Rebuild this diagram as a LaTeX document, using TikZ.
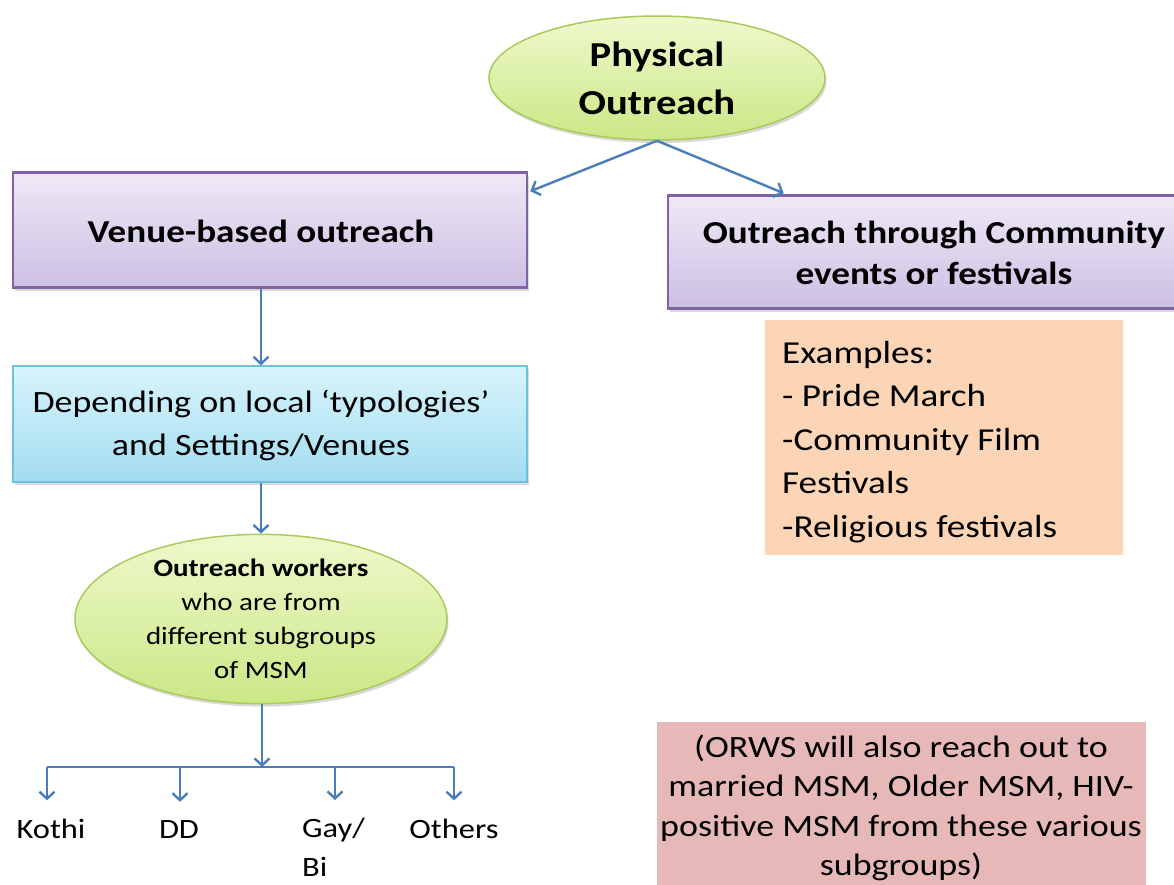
\documentclass[tikz,border=0pt]{standalone}
\usepackage{fontspec}
\setmainfont{Carlito}[FakeStretch=1.16]
\usetikzlibrary{arrows.meta,shapes.geometric,shadows,calc}
\definecolor{arrowblue}{HTML}{4A7EBB}
\definecolor{purpleedge}{HTML}{8064A2}
\definecolor{purpletop}{HTML}{EEE9F6}
\definecolor{purplebot}{HTML}{CDBFE3}
\definecolor{cyanedge}{HTML}{6FC0DC}
\definecolor{cyantop}{HTML}{D8F4FC}
\definecolor{cyanbot}{HTML}{A2DCF0}
\definecolor{greenedge}{HTML}{A9CB5C}
\definecolor{greentop}{HTML}{EEF9CB}
\definecolor{greenbot}{HTML}{CBE786}
\definecolor{peach}{HTML}{FBD5B5}
\definecolor{rose}{HTML}{E6B9B8}
\tikzset{
  conn/.style={draw=arrowblue, line width=2.4pt, -{Straight Barb[length=7pt,width=15pt,line width=2.4pt]}},
  plainline/.style={draw=arrowblue, line width=2.4pt},
  shade/.style={drop shadow={shadow xshift=1.5pt, shadow yshift=-3pt, opacity=0.3}},
  purplebox/.style={rectangle, draw=purpleedge, line width=2.6pt, top color=purpletop, bottom color=purplebot, shade, inner sep=0pt},
  cyanbox/.style={rectangle, draw=cyanedge, line width=1.2pt, top color=cyantop, bottom color=cyanbot, shade, inner sep=0pt},
  greenell/.style={ellipse, draw=greenedge, line width=1.5pt, top color=greentop, bottom color=greenbot, shade, inner sep=0pt, align=center},
  boxtext/.style={inner sep=0pt, align=center},
  leaflabel/.style={anchor=base, inner sep=0pt, font=\fontsize{28}{39}\selectfont},
}
\begin{document}
\begin{tikzpicture}[x=1pt,y=-1pt]
\useasboundingbox (0,0) rectangle (1174,884);
\begin{scope}
\clip (0,0) rectangle (1174,884);

\node[greenell, minimum width=336pt, minimum height=124pt, font=\fontsize{35}{48}\selectfont\bfseries] (phys) at (657,78) {Physical\\Outreach};

\node[purplebox, minimum width=514pt, minimum height=115pt] (venue) at (270,230) {};
\node[boxtext, font=\fontsize{32}{41}\selectfont\bfseries] (venuetext) at (261,231) {Venue-based outreach};

\node[purplebox, minimum width=532pt, minimum height=113pt] (community) at (934,252) {};
\node[boxtext, font=\fontsize{32}{41}\selectfont\bfseries] (communitytext) at (934,253) {Outreach through Community\\events or festivals};

\node[cyanbox, minimum width=514pt, minimum height=116pt] (depend) at (270,424) {};
\node[boxtext, font=\fontsize{31}{43}\selectfont] (dependtext) at (261,425) {Depending on local ‘typologies’\\and Settings/Venues};

\node[greenell, minimum width=372pt, minimum height=162pt, font=\fontsize{25}{34}\selectfont] (workers) at (261,619) {\textbf{Outreach workers}\\who are from\\different subgroups\\of MSM};

\node[rectangle, fill=peach, minimum width=358pt, minimum height=235pt, inner sep=0pt] (examples) at (944,437.5) {};
\node[anchor=north west, inner sep=0pt, align=left, font=\fontsize{32}{43.5}\selectfont] (extext) at (782,341) {Examples:\\- Pride March\\-Community Film\\Festivals\\-Religious festivals};

\node[rectangle, fill=rose, minimum width=489pt, minimum height=190pt, inner sep=0pt] (orws) at (901,817) {};
\node[align=center, inner sep=0pt, font=\fontsize{31}{39.5}\selectfont] (orwstext) at (901,808) {(ORWS will also reach out to\\married MSM, Older MSM, HIV-\\positive MSM from these various\\subgroups)};

% connectors from the top
\draw[conn] (phys.south) -- ($(venue.north east)+(2,20)$);
\draw[conn] (phys.south) -- ($(community.north west)+(117,-1)$);
\draw[conn] (workers |- venue.south) -- (workers |- depend.north);
\draw[conn] (workers |- depend.south) -- (workers.north);

% tree at the bottom
\coordinate (hub) at (262,767);
\coordinate (b1) at (47,767);
\coordinate (b2) at (180,767);
\coordinate (b3) at (335,767);
\coordinate (b4) at (454,767);
\draw[conn] (workers.south -| hub) -- (hub);
\draw[plainline] (b1) -- (b4);

\node[leaflabel] (kothi) at (51,838) {Kothi};
\node[leaflabel] (dd) at (179,838) {DD};
\node[leaflabel, anchor=north west, align=left] (gay) at (302,818) {Gay/\\Bi};
\node[leaflabel] (others) at (454,838) {Others};

\draw[conn] (b1) -- ($(b1 |- kothi.north)+(0,-18)$);
\draw[conn] (b2) -- ($(b2 |- dd.north)+(0,-18)$);
\draw[conn] (b3) -- ($(b3 |- gay.north)+(0,-18)$);
\draw[conn] (b4) -- ($(b4 |- others.north)+(0,-18)$);
\end{scope}
\end{tikzpicture}
\end{document}
